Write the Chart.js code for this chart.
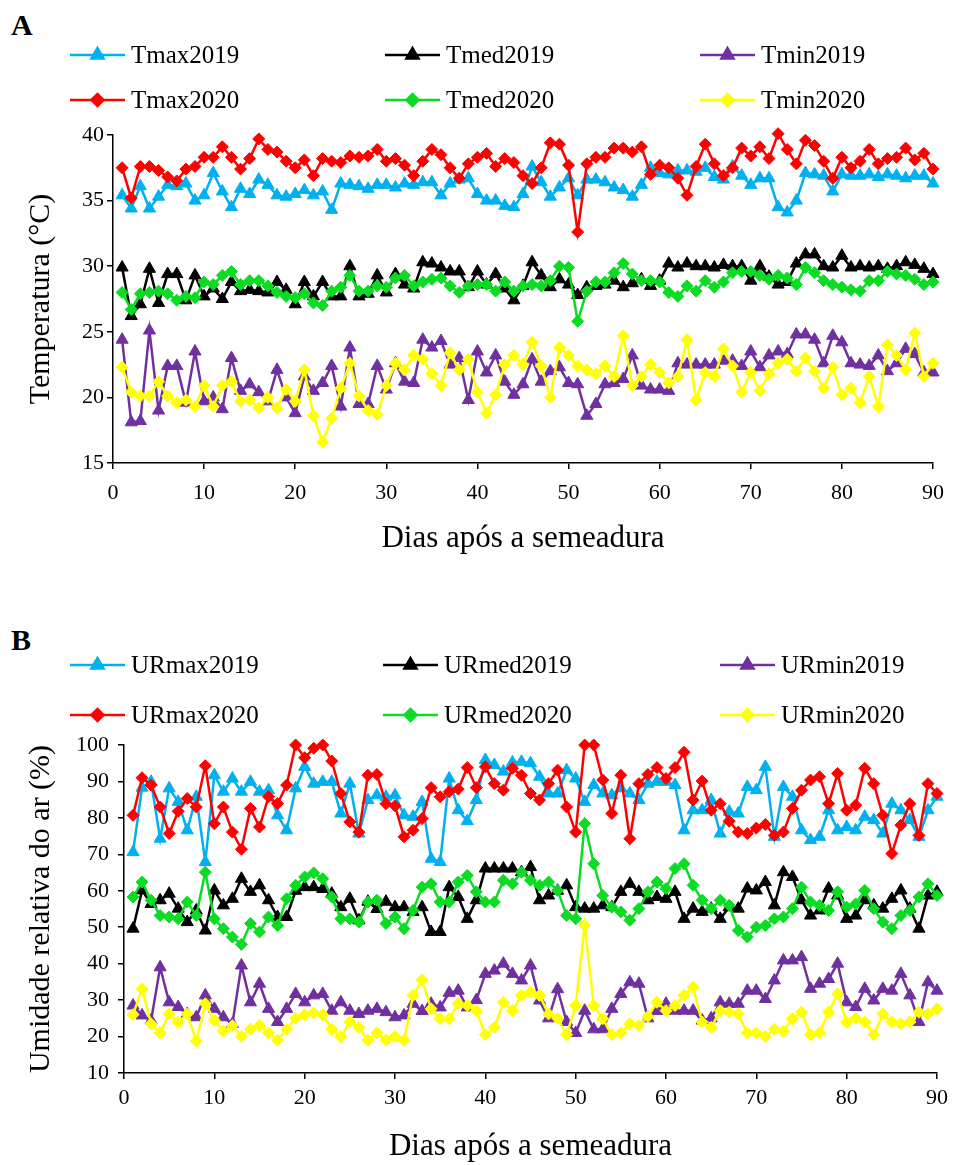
<!DOCTYPE html>
<html>
<head>
<meta charset="utf-8">
<script src="https://cdn.jsdelivr.net/npm/chart.js@4.4.1/dist/chart.umd.min.js"></script>
<style>
body { margin: 0; background: #fff; width: 955px; height: 1165px; position: relative; overflow: hidden; font-family: 'Liberation Serif', serif; }
.panel-label { position: absolute; font-weight: bold; font-size: 30px; line-height: 30px; color: #000; }
canvas { position: absolute; left: 0; }
</style>
</head>
<body>
<div class="panel-label" style="left:11px; top:10px;">A</div>
<div class="panel-label" style="left:11px; top:625px;">B</div>
<canvas id="chartA" width="955" height="575" style="top:0px"></canvas>
<canvas id="chartB" width="955" height="590" style="top:575px"></canvas>
<script>
// dias 1..90 apos a semeadura
const days = Array.from({ length: 90 }, (_, i) => i + 1);

// A - temperatura (°C)
const tmax2019 = [35.4, 34.4, 36.1, 34.4, 35.3, 36.2, 36.1, 36.3, 35.0, 35.4,
    37.1, 35.7, 34.5, 35.9, 35.5, 36.6, 36.2, 35.4, 35.3, 35.5,
    35.8, 35.4, 35.7, 34.3, 36.3, 36.2, 36.1, 35.9, 36.2, 36.2,
    36.0, 36.3, 36.2, 36.4, 36.4, 35.4, 36.3, 36.6, 36.7, 35.5,
    35.0, 35.0, 34.6, 34.5, 35.5, 37.6, 36.4, 35.3, 36.0, 36.7,
    35.4, 36.6, 36.6, 36.4, 36.0, 35.8, 35.3, 36.2, 37.5, 37.1,
    37.0, 37.3, 37.3, 37.2, 37.5, 36.8, 36.6, 37.6, 36.9, 36.2,
    36.7, 36.7, 34.5, 34.1, 35.0, 37.1, 37.0, 36.9, 35.7, 37.0,
    36.9, 36.9, 37.0, 36.8, 37.0, 36.9, 36.7, 36.9, 36.9, 36.3];
const tmed2019 = [29.9, 26.2, 27.1, 29.8, 27.2, 29.4, 29.4, 27.4, 29.3, 27.7,
    28.3, 27.5, 28.8, 28.1, 28.2, 28.1, 28.0, 28.8, 28.2, 27.1,
    28.8, 27.7, 28.8, 27.7, 27.7, 30.0, 27.7, 27.9, 29.3, 28.0,
    29.4, 28.6, 28.3, 30.3, 30.2, 29.9, 29.6, 29.6, 28.4, 29.6,
    28.6, 29.4, 28.3, 27.4, 28.5, 30.3, 29.3, 28.4, 29.0, 28.6,
    27.8, 28.4, 28.5, 28.6, 28.9, 28.4, 28.7, 29.0, 28.5, 28.9,
    30.2, 29.9, 30.2, 30.0, 30.0, 29.9, 30.1, 30.0, 30.0, 28.9,
    30.0, 29.2, 28.6, 28.8, 30.2, 30.9, 30.9, 30.0, 29.9, 30.8,
    29.9, 30.0, 29.9, 30.0, 29.8, 30.0, 30.3, 30.1, 29.8, 29.4];
const tmin2019 = [24.4, 18.1, 18.2, 25.1, 19.0, 22.4, 22.4, 19.6, 23.5, 19.7,
    20.0, 19.1, 23.0, 20.5, 21.0, 20.4, 19.7, 22.1, 20.0, 18.8,
    21.6, 20.5, 21.1, 22.4, 19.3, 23.8, 19.5, 19.5, 22.4, 20.6,
    22.6, 21.2, 21.1, 24.4, 23.8, 24.3, 22.5, 23.0, 19.8, 23.5,
    21.9, 23.2, 21.2, 20.2, 21.0, 22.9, 21.2, 22.0, 22.3, 21.1,
    21.0, 18.6, 19.5, 21.0, 21.1, 21.4, 23.2, 20.9, 20.6, 20.6,
    20.5, 22.6, 22.5, 22.5, 22.5, 22.5, 22.8, 22.8, 22.4, 23.5,
    22.3, 23.2, 23.5, 23.3, 24.8, 24.8, 24.4, 22.6, 24.7, 24.2,
    22.6, 22.5, 22.4, 23.2, 22.0, 22.6, 23.7, 23.3, 21.9, 21.9];
const tmax2020 = [37.5, 35.2, 37.6, 37.6, 37.3, 36.8, 36.5, 37.4, 37.6, 38.3,
    38.3, 39.1, 38.3, 37.4, 38.2, 39.7, 38.9, 38.7, 38.0, 37.5,
    38.1, 36.9, 38.2, 38.0, 37.9, 38.4, 38.3, 38.4, 38.9, 38.0,
    38.2, 37.7, 36.9, 38.0, 38.9, 38.5, 37.5, 36.7, 37.8, 38.3,
    38.6, 37.6, 38.2, 37.9, 36.9, 36.3, 37.5, 39.4, 39.3, 37.7,
    32.6, 37.8, 38.3, 38.3, 39.0, 39.0, 38.7, 39.1, 37.0, 37.7,
    37.5, 36.7, 35.4, 37.6, 39.3, 37.8, 36.9, 37.5, 39.0, 38.4,
    39.1, 38.2, 40.1, 38.9, 37.8, 39.6, 39.2, 38.0, 36.7, 38.3,
    37.5, 38.0, 38.9, 37.8, 38.2, 38.3, 39.0, 38.1, 38.6, 37.4];
const tmed2020 = [28.0, 26.7, 27.9, 28.0, 28.1, 27.9, 27.4, 27.7, 27.6, 28.8,
    28.6, 29.3, 29.6, 28.6, 28.9, 28.9, 28.5, 28.0, 27.7, 27.6,
    27.9, 27.2, 27.0, 28.1, 28.4, 29.3, 28.1, 28.1, 28.5, 28.4,
    29.1, 29.3, 28.5, 28.8, 29.0, 29.1, 28.5, 28.0, 28.5, 28.6,
    28.6, 28.1, 28.8, 28.1, 28.5, 28.6, 28.5, 28.9, 30.0, 29.9,
    25.8, 28.1, 28.8, 28.8, 29.5, 30.2, 29.4, 28.9, 28.9, 28.8,
    28.0, 27.7, 28.5, 28.1, 28.9, 28.4, 28.8, 29.5, 29.6, 29.6,
    29.3, 29.0, 29.3, 29.1, 28.6, 29.9, 29.5, 28.9, 28.6, 28.4,
    28.2, 28.1, 28.9, 28.9, 29.6, 29.4, 29.3, 29.0, 28.6, 28.8];
const tmin2020 = [22.3, 20.4, 20.1, 20.1, 21.2, 20.1, 19.6, 19.8, 19.3, 20.9,
    19.3, 20.9, 21.2, 19.7, 19.8, 19.2, 20.0, 19.2, 20.6, 19.7,
    22.1, 18.6, 16.6, 18.4, 20.7, 22.6, 20.1, 19.0, 18.7, 20.9,
    22.6, 22.1, 23.2, 22.9, 21.8, 20.9, 23.4, 22.1, 22.9, 20.4,
    18.8, 20.2, 22.5, 23.2, 22.5, 24.2, 22.4, 20.0, 23.8, 23.2,
    22.4, 22.1, 21.8, 22.4, 21.6, 24.7, 20.9, 21.6, 22.5, 21.9,
    21.1, 21.6, 24.4, 19.8, 21.9, 21.6, 23.7, 22.4, 20.4, 21.9,
    20.5, 21.8, 22.6, 22.9, 22.0, 23.0, 22.0, 20.7, 22.3, 20.2,
    20.7, 19.6, 21.6, 19.3, 24.0, 23.2, 22.1, 24.9, 21.6, 22.6];

// B - umidade relativa do ar (%)
const urmax2019 = [70.6, 88.3, 89.9, 74.3, 88.1, 84.4, 76.6, 85.8, 67.9, 91.7,
    87.2, 90.8, 87.2, 89.9, 87.2, 87.6, 80.7, 76.6, 88.1, 94.0,
    89.4, 89.9, 89.9, 81.2, 89.4, 75.7, 84.9, 86.2, 85.8, 86.2,
    80.7, 80.3, 84.4, 68.8, 67.9, 90.8, 82.1, 79.1, 84.9, 95.9,
    94.5, 92.7, 95.2, 95.4, 95.0, 91.3, 86.7, 86.7, 93.1, 90.8,
    84.4, 89.0, 86.7, 86.2, 88.1, 86.7, 84.9, 89.4, 89.9, 89.9,
    89.0, 76.6, 82.1, 82.1, 84.9, 75.7, 81.7, 81.2, 88.5, 87.6,
    94.0, 74.8, 88.5, 85.8, 76.6, 73.9, 74.8, 82.1, 76.6, 77.5,
    76.6, 80.3, 79.4, 75.7, 83.9, 82.1, 79.4, 74.8, 82.1, 85.8];
const urmed2019 = [49.6, 60.1, 56.4, 57.4, 59.2, 55.1, 51.4, 54.6, 49.1, 60.1,
    56.0, 57.8, 63.3, 59.7, 61.5, 57.4, 52.8, 52.8, 60.0, 61.0,
    61.0, 60.5, 59.2, 55.5, 57.8, 51.9, 57.0, 55.0, 57.0, 55.5,
    55.5, 54.2, 55.5, 48.7, 48.7, 61.0, 58.3, 52.3, 57.4, 66.1,
    66.1, 66.1, 66.1, 65.1, 66.5, 57.4, 58.7, 60.0, 61.5, 55.5,
    55.1, 55.1, 56.0, 55.5, 59.7, 61.9, 59.7, 57.4, 58.3, 57.8,
    59.7, 52.3, 55.1, 54.2, 55.1, 52.3, 55.5, 55.1, 60.6, 60.1,
    62.4, 56.0, 65.1, 63.8, 57.4, 53.2, 54.6, 60.6, 58.7, 52.3,
    53.2, 57.4, 56.0, 55.1, 57.8, 60.1, 55.1, 49.6, 58.7, 59.7];
const urmin2019 = [28.5, 25.8, 24.4, 39.0, 29.4, 28.1, 26.2, 25.3, 31.3, 27.6,
    25.3, 23.5, 39.5, 29.4, 34.5, 27.6, 24.0, 27.6, 31.7, 29.4,
    31.3, 31.7, 27.1, 29.4, 27.1, 26.2, 27.1, 27.6, 26.7, 25.3,
    25.8, 29.0, 27.0, 29.0, 28.0, 32.0, 32.6, 28.0, 30.0, 37.2,
    38.1, 40.0, 37.2, 35.4, 39.5, 29.9, 25.0, 33.0, 24.0, 21.0,
    27.1, 22.0, 22.0, 27.6, 31.7, 34.9, 34.5, 25.0, 27.0, 29.0,
    27.1, 27.1, 27.1, 24.4, 25.0, 29.4, 29.0, 29.0, 32.6, 32.6,
    30.3, 35.4, 40.9, 40.9, 41.8, 33.1, 34.5, 35.8, 40.0, 29.4,
    28.1, 33.1, 29.9, 33.1, 32.6, 37.2, 31.3, 24.0, 34.9, 32.6];
const urmax2020 = [80.7, 91.0, 89.0, 83.0, 75.7, 81.8, 85.3, 83.0, 94.3, 78.4,
    83.0, 76.1, 71.4, 82.6, 77.5, 85.8, 83.9, 89.0, 100, 96.5,
    99.1, 100, 95.6, 86.7, 78.9, 76.1, 91.7, 91.9, 83.9, 83.3,
    74.8, 76.6, 79.8, 88.3, 85.8, 87.2, 87.9, 93.8, 88.3, 94.0,
    89.4, 87.6, 93.6, 91.7, 86.7, 84.9, 89.4, 93.1, 83.0, 76.1,
    100, 100, 90.4, 81.2, 91.7, 74.3, 89.4, 91.9, 93.8, 90.8,
    93.8, 98.0, 84.9, 90.1, 82.1, 83.9, 79.1, 76.1, 75.7, 77.2,
    78.2, 75.2, 76.1, 82.6, 87.6, 90.4, 91.3, 83.9, 92.2, 82.1,
    83.5, 93.6, 89.4, 80.7, 70.2, 78.0, 83.9, 75.2, 89.4, 86.7];
const urmed2020 = [58.3, 62.4, 57.4, 53.2, 52.8, 52.3, 56.9, 53.2, 65.1, 52.3,
    49.6, 47.3, 45.3, 51.0, 48.7, 52.8, 50.5, 57.8, 61.5, 63.8,
    64.9, 63.3, 58.3, 52.3, 52.3, 51.4, 56.9, 57.4, 51.0, 52.8,
    49.6, 54.6, 61.0, 61.9, 56.9, 56.9, 62.4, 64.2, 59.7, 56.9,
    56.9, 62.9, 61.9, 65.1, 62.9, 61.5, 62.4, 60.1, 53.2, 52.3,
    78.4, 67.4, 58.7, 55.5, 54.2, 51.9, 55.1, 59.7, 62.4, 60.6,
    66.1, 67.4, 61.5, 57.4, 55.1, 57.4, 56.0, 49.1, 47.3, 50.0,
    50.5, 52.3, 52.8, 55.1, 61.0, 56.9, 56.0, 54.6, 59.7, 55.5,
    56.4, 60.1, 55.1, 51.4, 49.6, 53.2, 54.6, 58.3, 61.9, 58.7];
const urmin2020 = [26.0, 33.1, 23.5, 21.0, 26.2, 23.9, 26.2, 18.8, 29.0, 24.5,
    21.5, 23.0, 20.0, 22.0, 23.0, 21.0, 19.0, 22.0, 25.0, 26.0,
    26.5, 26.0, 22.0, 20.0, 24.0, 22.5, 19.0, 21.0, 19.0, 20.0,
    19.0, 31.3, 35.5, 27.6, 24.9, 24.9, 29.0, 28.5, 27.1, 20.5,
    22.5, 29.4, 27.1, 31.3, 32.2, 31.3, 26.2, 25.0, 20.5, 28.5,
    50.5, 28.5, 24.9, 20.5, 21.0, 23.5, 23.0, 25.5, 29.4, 27.1,
    28.5, 31.3, 33.5, 24.0, 22.5, 27.1, 26.7, 26.2, 21.0, 21.0,
    20.0, 22.0, 21.5, 24.9, 26.7, 20.5, 21.0, 26.7, 31.7, 23.9,
    25.0, 24.0, 20.5, 26.2, 24.0, 23.5, 24.0, 26.7, 26.2, 27.6];

const FONT = "'Liberation Serif', 'Times New Roman', serif";
const BLUE = '#00B0F0', BLACK = '#000000', PURPLE = '#7030A0';
const RED = '#FF0000', GREEN = '#0BDC23', YELLOW = '#FFFF00';

function series(label, values, color, style, order) {
    return {
        label: label,
        data: values.map((v, i) => ({ x: days[i], y: v })),
        borderColor: color,
        backgroundColor: color,
        pointBackgroundColor: color,
        pointBorderColor: color,
        pointStyle: style,
        pointRadius: style === 'triangle' ? 7 : 6,
        pointBorderWidth: 1,
        borderWidth: 2.5,
        tension: 0,
        clip: false,
        order: order
    };
}

// legenda em 3 colunas, desenhada no espaco acima do grafico
const columnLegend = {
    id: 'columnLegend',
    afterDraw(chart, args, opts) {
        const ctx = chart.ctx;
        ctx.save();
        ctx.font = opts.fontSize + 'px ' + FONT;
        ctx.textBaseline = 'middle';
        chart.data.datasets.forEach((ds, i) => {
            const slot = opts.slots[i];
            ctx.strokeStyle = ds.borderColor;
            ctx.fillStyle = ds.borderColor;
            ctx.lineWidth = 2.5;
            ctx.beginPath();
            ctx.moveTo(slot.x, slot.y);
            ctx.lineTo(slot.x + opts.lineLen, slot.y);
            ctx.stroke();
            Chart.helpers.drawPoint(ctx, {
                pointStyle: ds.pointStyle, radius: ds.pointRadius,
                borderWidth: 1, rotation: 0
            }, slot.x + opts.lineLen / 2, slot.y);
            ctx.fillStyle = '#000';
            ctx.fillText(ds.label, slot.x + opts.lineLen + opts.gap, slot.y + 1);
        });
        ctx.restore();
    }
};

function axisStyle() {
    return {
        grid: { display: true, drawOnChartArea: false, drawTicks: true, tickLength: 6, color: '#000', lineWidth: 1.5 },
        border: { display: true, color: '#000', width: 1.5 }
    };
}

function makeChart(id, datasets, cfg) {
    return new Chart(document.getElementById(id), {
        type: 'line',
        data: { datasets: datasets },
        options: {
            responsive: false,
            animation: false,
            layout: { padding: cfg.padding },
            plugins: {
                legend: { display: false },
                tooltip: { enabled: false },
                columnLegend: { slots: cfg.slots, lineLen: 55, gap: 6, fontSize: 25 }
            },
            scales: {
                x: Object.assign(axisStyle(), {
                    type: 'linear', min: 0, max: 90,
                    ticks: { stepSize: 10, color: '#000', font: { family: FONT, size: 22 }, padding: cfg.xTickPad, maxRotation: 0 },
                    title: { display: true, text: 'Dias após a semeadura', color: '#000', font: { family: FONT, size: 31 }, padding: { top: 0, bottom: cfg.xTitlePad } },
                    afterFit: s => { s.height = cfg.xHeight; }
                }),
                y: Object.assign(axisStyle(), {
                    min: cfg.yMin, max: cfg.yMax,
                    ticks: { stepSize: cfg.yStep, color: '#000', font: { family: FONT, size: 22 }, padding: cfg.yTickPad },
                    title: { display: true, text: cfg.yTitle, color: '#000', font: { family: FONT, size: 30 }, padding: { top: 3, bottom: 0 } },
                    afterFit: s => { s.width = cfg.yWidth; }
                })
            }
        },
        plugins: [columnLegend]
    });
}

makeChart('chartA', [
    series('Tmax2019', tmax2019, BLUE, 'triangle', 1),
    series('Tmed2019', tmed2019, BLACK, 'triangle', 1),
    series('Tmin2019', tmin2019, PURPLE, 'triangle', 1),
    series('Tmax2020', tmax2020, RED, 'rectRot', 0),
    series('Tmed2020', tmed2020, GREEN, 'rectRot', 0),
    series('Tmin2020', tmin2020, YELLOW, 'rectRot', 0)
], {
    padding: { left: 20, right: 19, top: 135, bottom: 0 },
    slots: [{ x: 70, y: 55 }, { x: 385, y: 55 }, { x: 700, y: 55 },
            { x: 70, y: 100 }, { x: 385, y: 100 }, { x: 700, y: 100 }],
    yMin: 15, yMax: 40, yStep: 5, yTitle: 'Temperatura (°C)', yWidth: 93, yTickPad: 3,
    xHeight: 112, xTickPad: 11, xTitlePad: 18
});

makeChart('chartB', [
    series('URmax2019', urmax2019, BLUE, 'triangle', 1),
    series('URmed2019', urmed2019, BLACK, 'triangle', 1),
    series('URmin2019', urmin2019, PURPLE, 'triangle', 1),
    series('URmax2020', urmax2020, RED, 'rectRot', 0),
    series('URmed2020', urmed2020, GREEN, 'rectRot', 0),
    series('URmin2020', urmin2020, YELLOW, 'rectRot', 0)
], {
    padding: { left: 20, right: 18, top: 170, bottom: 0 },
    slots: [{ x: 70, y: 90 }, { x: 383, y: 90 }, { x: 720, y: 90 },
            { x: 70, y: 140 }, { x: 383, y: 140 }, { x: 720, y: 140 }],
    yMin: 10, yMax: 100, yStep: 10, yTitle: 'Umidade relativa do ar (%)', yWidth: 104, yTickPad: 9,
    xHeight: 92, xTickPad: 6, xTitlePad: 0
});
</script>
</body>
</html>
